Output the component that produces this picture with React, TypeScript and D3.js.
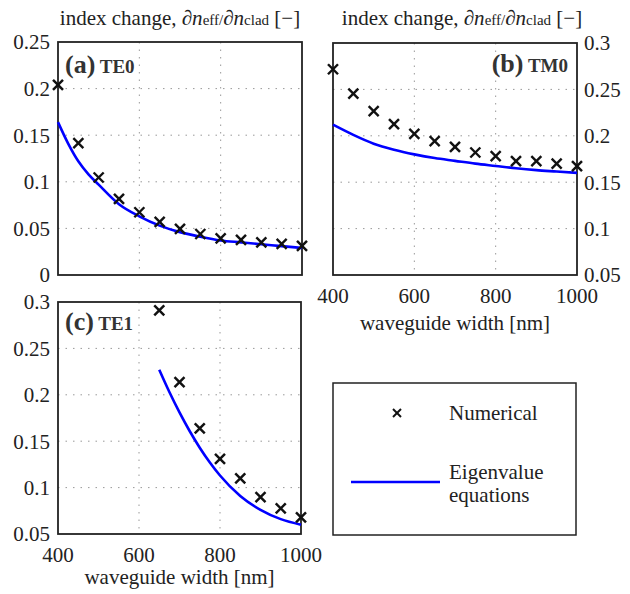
import React from "react";
import * as d3 from "d3";

const widths = [400, 450, 500, 550, 600, 650, 700, 750, 800, 850, 900, 950, 1000];
const te0Numerical = [0.204, 0.1415, 0.1046, 0.0817, 0.0673, 0.057, 0.0494, 0.044, 0.0394, 0.0376, 0.0351, 0.0333, 0.0312];
const tm0Numerical = [0.2717, 0.2455, 0.2265, 0.2125, 0.202, 0.1942, 0.188, 0.182, 0.178, 0.1727, 0.1727, 0.17, 0.1673];
const te1Widths = [650, 700, 750, 800, 850, 900, 950, 1000];
const te1Numerical = [0.291, 0.2137, 0.1639, 0.131, 0.11, 0.0898, 0.0776, 0.0679];

const curveWidths = [400, 425, 450, 475, 500, 550, 600, 650, 700, 750, 800, 850, 900, 950, 1000];
const te0Curve = [0.164, 0.141, 0.122, 0.108, 0.097, 0.076, 0.063, 0.053, 0.046, 0.041, 0.037, 0.035, 0.033, 0.031, 0.029];
const tm0CurveWidths = [400, 450, 500, 550, 600, 650, 700, 750, 800, 850, 900, 950, 1000];
const tm0Curve = [0.212, 0.201, 0.1915, 0.185, 0.18, 0.176, 0.173, 0.17, 0.1675, 0.165, 0.163, 0.1615, 0.16];
const te1CurveWidths = [650, 675, 700, 725, 750, 775, 800, 850, 900, 950, 1000];
const te1Curve = [0.227, 0.203, 0.181, 0.161, 0.143, 0.127, 0.113, 0.091, 0.076, 0.066, 0.06];

const xTicks = [400, 600, 800, 1000];
const yTicksA = [0, 0.05, 0.1, 0.15, 0.2, 0.25];
const yTicksBC = [0.05, 0.1, 0.15, 0.2, 0.25, 0.3];

const FONT = "Liberation Serif";
const BLUE = "#0000ff";

type PanelProps = {
  left: number; top: number; right: number; bottom: number;
  yDomain: [number, number]; yTicks: number[];
  yAxisRight?: boolean; showX?: boolean;
  xs: number[]; ys: number[]; cx: number[]; cy: number[];
  label: string; sub: string; labelRight?: boolean; labelBaseline: number;
  xLabelBaseline?: number;
};

function Cross({ x, y, r = 5, w = 2.4 }: { x: number; y: number; r?: number; w?: number }) {
  return (
    <g stroke="#111" strokeWidth={w}>
      <line x1={x - r} y1={y - r} x2={x + r} y2={y + r} />
      <line x1={x - r} y1={y + r} x2={x + r} y2={y - r} />
    </g>
  );
}

function Panel(p: PanelProps) {
  const x = d3.scaleLinear().domain([400, 1000]).range([p.left, p.right]);
  const y = d3.scaleLinear().domain(p.yDomain).range([p.bottom, p.top]);
  const line = d3.line<number>().x((_, i) => x(p.cx[i])).y((d) => y(d)).curve(d3.curveMonotoneX);
  return (
    <g>
      {xTicks.slice(1, -1).map((t) => (
        <line key={"gx" + t} x1={x(t)} x2={x(t)} y1={p.top} y2={p.bottom} stroke="#999" strokeWidth={1} strokeDasharray="1.5,6" />
      ))}
      {p.yTicks.slice(1, -1).map((t) => (
        <line key={"gy" + t} x1={p.left} x2={p.right} y1={y(t)} y2={y(t)} stroke="#999" strokeWidth={1} strokeDasharray="1.5,6" />
      ))}
      <rect x={p.left} y={p.top} width={p.right - p.left} height={p.bottom - p.top} fill="none" stroke="#222" strokeWidth={1.8} />
      {p.yTicks.map((t) => (
        <text key={"ty" + t} fontFamily={FONT} x={p.yAxisRight ? p.right + 7 : p.left - 8} y={y(t)} dy="0.35em" fontSize={21}
          textAnchor={p.yAxisRight ? "start" : "end"} fill="#222">{d3.format("~g")(t)}</text>
      ))}
      {p.showX && xTicks.map((t) => (
        <text key={"tx" + t} fontFamily={FONT} x={x(t)} y={p.bottom + 28} fontSize={21} textAnchor="middle" fill="#222">{t}</text>
      ))}
      {p.showX && p.xLabelBaseline && (
        <text fontFamily={FONT} x={(p.left + p.right) / 2} y={p.xLabelBaseline} fontSize={21} textAnchor="middle" fill="#222">waveguide width [nm]</text>
      )}
      <path d={line(p.cy) || ""} fill="none" stroke={BLUE} strokeWidth={2.6} />
      {p.ys.map((v, i) => <Cross key={"m" + i} x={x(p.xs[i])} y={y(v)} />)}
      <text fontFamily={FONT} x={p.labelRight ? p.right - 9 : p.left + 7} y={p.labelBaseline} textAnchor={p.labelRight ? "end" : "start"} fill="#333" fontWeight="bold">
        <tspan fontSize={26}>{p.label}</tspan>
        <tspan fontSize={19}>{" " + p.sub}</tspan>
      </text>
    </g>
  );
}

function Title({ cx, y }: { cx: number; y: number }) {
  return (
    <text x={cx} y={y} textAnchor="middle" fontFamily={FONT} fontSize={21} fill="#222">
      <tspan>index change, </tspan>
      <tspan fontStyle="italic">∂n</tspan>
      <tspan fontSize={15}>eff/</tspan>
      <tspan fontStyle="italic">∂n</tspan>
      <tspan fontSize={15}>clad</tspan>
      <tspan> [−]</tspan>
    </text>
  );
}

export default function App() {
  return (
    <svg width={630} height={594} fontFamily={FONT} style={{ position: "absolute", left: 0, top: 0 }}>
      <rect width={630} height={594} fill="#fff" />
      <Title cx={180} y={25} />
      <Title cx={462} y={25} />
      <Panel left={58} top={42} right={302} bottom={275} yDomain={[0, 0.25]} yTicks={yTicksA}
        xs={widths} ys={te0Numerical} cx={curveWidths} cy={te0Curve}
        label="(a)" sub="TE0" labelBaseline={73} />
      <Panel left={333} top={43} right={577} bottom={275} yDomain={[0.05, 0.3]} yTicks={yTicksBC} yAxisRight showX
        xs={widths} ys={tm0Numerical} cx={tm0CurveWidths} cy={tm0Curve}
        label="(b)" sub="TM0" labelRight labelBaseline={72} xLabelBaseline={330} />
      <Panel left={58} top={302} right={301} bottom={534} yDomain={[0.05, 0.3]} yTicks={yTicksBC} showX
        xs={te1Widths} ys={te1Numerical} cx={te1CurveWidths} cy={te1Curve}
        label="(c)" sub="TE1" labelBaseline={330} xLabelBaseline={584} />
      <g>
        <rect x={333} y={383} width={243} height={152} fill="#fff" stroke="#222" strokeWidth={1.5} />
        <Cross x={397} y={413} r={4} w={2} />
        <text fontFamily={FONT} x={449} y={420} fontSize={21} fill="#222">Numerical</text>
        <line x1={351} x2={440} y1={482} y2={482} stroke={BLUE} strokeWidth={2.6} />
        <text fontFamily={FONT} x={449} y={479} fontSize={21} fill="#222">Eigenvalue</text>
        <text fontFamily={FONT} x={449} y={502} fontSize={21} fill="#222">equations</text>
      </g>
    </svg>
  );
}
